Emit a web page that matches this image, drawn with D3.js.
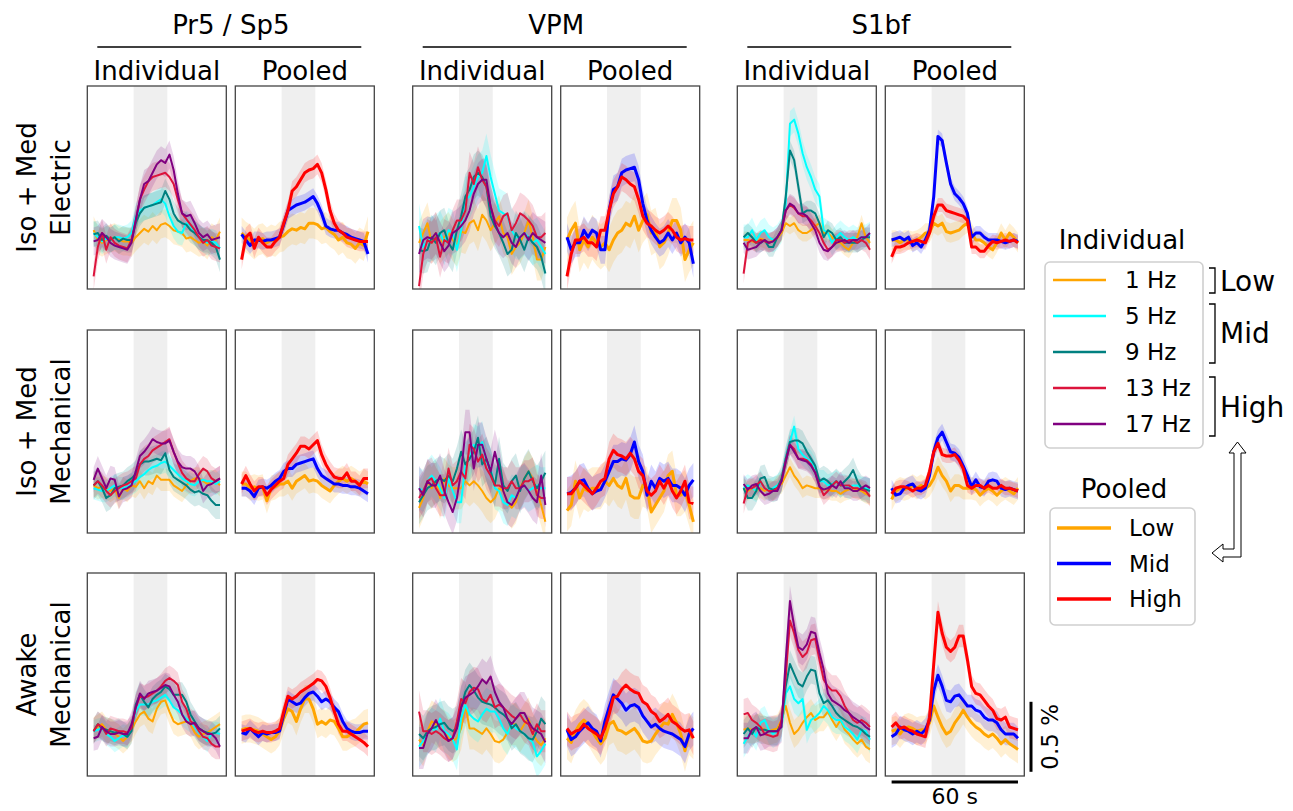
<!DOCTYPE html>
<html>
<head>
<meta charset="utf-8">
<script src="https://cdnjs.cloudflare.com/ajax/libs/d3/7.8.5/d3.min.js"></script>
<style>
body{margin:0;background:#fff}
text{font-family:"DejaVu Sans",sans-serif;fill:#000}
</style>
</head>
<body>
<svg id="chart" width="1293" height="811"></svg>
<script>
var times = [-20,-18,-16,-14,-12,-10,-8,-6,-4,-2,0,2,4,6,8,10,12,14,16,18,20,22,24,26,28,30,32,34,36,38,40];
var stim = [-1, 15];
var regions = ["Pr5 / Sp5", "VPM", "S1bf"];
var conditions = [["Iso + Med", "Electric"], ["Iso + Med", "Mechanical"], ["Awake", "Mechanical"]];
var freqLabels = ["1 Hz", "5 Hz", "9 Hz", "13 Hz", "17 Hz"];
var poolLabels = ["Low", "Mid", "High"];
var indColors = ["orange", "cyan", "teal", "crimson", "purple"];
var poolColors = ["orange", "blue", "red"];

// ---- Iso + Med, Electric ----  (order: 1, 5, 9, 13, 17 Hz  /  Low, Mid, High)
var elecPr5Ind = [
  [0.07,0,-0.02,0,0.01,0.02,0,-0.01,-0.01,-0.02,0.02,0.05,0.08,0.06,0.1,0.07,0.11,0.12,0.1,0.07,0.06,0.05,0.01,0.02,0,-0.02,-0.01,-0.04,0.02,0,0.06],
  [0.05,0.02,-0.01,0.01,0,0.02,0.02,0.01,0.02,0.05,0.17,0.21,0.23,0.24,0.25,0.27,0.29,0.26,0.17,0.1,0.06,0.05,0.12,0.1,0.05,0.02,0,-0.02,-0.01,-0.02,-0.06],
  [0.04,0.05,0,0.03,0,0.02,-0.01,0.01,0,0,0.12,0.19,0.23,0.24,0.25,0.26,0.27,0.35,0.29,0.19,0.14,0.12,0.11,0.07,0.05,0.02,0,0,-0.02,-0.05,-0.14],
  [-0.26,-0.05,0.05,-0.07,0.02,-0.02,-0.04,-0.05,-0.06,0,0.14,0.29,0.36,0.42,0.45,0.46,0.47,0.48,0.45,0.4,0.29,0.19,0.15,0.11,0.07,0.02,-0.02,0,-0.04,-0.05,-0.06],
  [-0.01,0,0.05,0.02,-0.02,-0.04,-0.05,-0.06,-0.07,-0.02,0.14,0.29,0.4,0.42,0.48,0.54,0.57,0.55,0.61,0.5,0.33,0.19,0.17,0.18,0.12,0.05,0.02,0.04,0,0.01,0.02]
];
var elecPr5IndSem = [0.1, 0.09, 0.09, 0.1, 0.1];
var elecPr5Pool = [
  [0.05,0.02,0,-0.03,0,0.01,-0.02,0,-0.01,0.02,0.03,0.06,0.08,0.07,0.09,0.08,0.12,0.12,0.11,0.08,0.09,0.06,0.04,0,0.02,-0.02,-0.03,-0.06,-0.02,-0.04,0.06],
  [0.04,0,-0.04,0,0,-0.01,0,0,0.01,0.02,0.11,0.21,0.23,0.25,0.26,0.27,0.29,0.31,0.26,0.19,0.1,0.08,0.07,0.07,0.05,0.04,0.02,0.01,0,-0.01,-0.1],
  [-0.14,0.02,0.05,-0.06,0.02,-0.02,-0.05,-0.05,-0.01,0.02,0.12,0.21,0.35,0.38,0.43,0.48,0.5,0.51,0.54,0.48,0.36,0.21,0.12,0.07,0.05,0.02,0.01,0,-0.01,-0.01,-0.01]
];
var elecPr5PoolSem = [0.11, 0.06, 0.07];
var elecVpmInd = [
  [-0.02,0.05,0.12,-0.02,0.05,-0.02,0.02,0.05,0,-0.04,0.06,0.05,0.12,0.14,0.07,0.18,0.14,0.07,0.12,0.17,0.05,0.02,-0.1,-0.05,-0.02,0.05,0.14,0.02,-0.14,-0.14,-0.05],
  [0.1,-0.05,0,0.01,0.02,0.05,-0.02,0.07,0.05,-0.07,0.07,0.29,0.31,0.38,0.45,0.48,0.6,0.45,0.33,0.21,0.19,0.17,0.07,0.02,0.02,0.05,0.02,-0.02,0,-0.05,-0.1],
  [-0.07,-0.08,-0.07,0.02,-0.02,0.05,0.07,-0.02,-0.07,0.07,0.17,0.31,0.36,0.45,0.48,0.45,0.38,0.17,0.1,0.05,-0.02,-0.1,-0.07,0.05,0,-0.07,0.02,-0.02,-0.05,-0.12,-0.24],
  [-0.33,-0.1,0,-0.02,0.02,-0.12,0,-0.02,0.07,0.14,0.14,0.21,0.48,0.4,0.52,0.43,0.38,0.24,0.14,0.1,0.17,0.19,0.07,0.12,0.19,0.17,0.14,0.1,0.02,0.02,0.05],
  [-0.1,0,0.02,0.01,0.05,-0.02,-0.08,-0.04,0.05,0.07,0.1,0.14,0.21,0.33,0.4,0.43,0.43,0.24,0.12,0.05,0.02,0.05,-0.02,-0.05,0.02,0.05,0,0.05,0.02,0,-0.02]
];
var elecVpmIndSem = [0.15, 0.16, 0.16, 0.15, 0.15];
var elecVpmPool = [
  [0,0.07,0.12,-0.07,0,-0.05,0.02,-0.02,-0.05,-0.02,-0.07,0,0.05,0.07,0.12,0.1,0.17,0.07,0.14,0.18,0.05,0.07,-0.05,-0.02,0.05,0.14,0.14,0.07,-0.14,-0.07,-0.02],
  [0.02,-0.07,-0.02,-0.02,0.07,0.02,0.07,0.05,-0.07,-0.07,0.21,0.36,0.38,0.48,0.5,0.51,0.52,0.43,0.26,0.14,0.07,0.02,-0.02,0,0.05,0,0.05,-0.02,0.02,-0.02,-0.17],
  [-0.26,-0.1,0,0,0.02,-0.02,-0.02,-0.05,0.07,0.07,0.21,0.33,0.38,0.45,0.43,0.4,0.38,0.29,0.17,0.12,0.1,0.07,0.05,0.07,0.1,0.07,0.02,0,0.01,0,0]
];
var elecVpmPoolSem = [0.16, 0.1, 0.1];
var elecS1Ind = [
  [0,0,-0.01,-0.02,0.01,0,-0.02,0,0.01,0.05,0.12,0.1,0.12,0.07,0.05,0.05,0.07,0.1,0.12,0.05,0.05,0.02,-0.02,-0.02,-0.05,-0.07,-0.02,0.02,0.12,0.02,-0.02],
  [0.02,0.02,0.07,0,0.05,0.07,0.02,0,0.02,0.07,0.26,0.83,0.86,0.76,0.62,0.52,0.45,0.36,0.31,0.07,0.05,-0.02,0.02,0.05,0.02,0,0.02,0,0.02,0.02,0.04],
  [0.02,0.05,0.02,-0.02,-0.02,0,-0.05,-0.05,0.02,0.07,0.31,0.64,0.57,0.38,0.19,0.21,0.21,0.19,0.12,0.02,0.07,0.05,0,0.02,-0.02,-0.02,-0.02,-0.02,0,0.02,0.02],
  [-0.24,-0.02,0,-0.02,0,-0.01,-0.02,-0.01,0.02,0.07,0.21,0.25,0.23,0.19,0.17,0.17,0.14,0.1,0.05,-0.02,-0.07,-0.05,0,0,-0.02,0,0,-0.02,0,-0.02,-0.07],
  [-0.02,-0.07,-0.06,-0.05,-0.02,0,-0.02,-0.01,0.02,0.07,0.21,0.26,0.24,0.19,0.19,0.17,0.12,0.07,-0.02,-0.07,-0.08,-0.05,-0.02,-0.01,0,-0.02,0,0,0.02,0.02,0.05]
];
var elecS1IndSem = [0.06, 0.09, 0.07, 0.07, 0.07];
var elecS1Pool = [
  [0,0,-0.02,0,0,-0.01,0,0.02,0.05,0.05,0.12,0.1,0.12,0.06,0.05,0.06,0.07,0.1,0.12,0.05,0,0,-0.02,-0.05,-0.07,-0.02,0.05,0,0.05,0.02,-0.02],
  [0,0.01,0.02,0,0.02,-0.04,-0.02,-0.05,0,0.07,0.31,0.74,0.71,0.55,0.4,0.33,0.3,0.26,0.19,0.02,0.05,0.05,0.02,0,0,0,-0.01,-0.02,-0.01,0,-0.01],
  [-0.12,-0.05,-0.05,-0.04,-0.02,-0.01,0,-0.01,-0.02,0.05,0.17,0.25,0.25,0.21,0.2,0.19,0.18,0.17,0.14,-0.05,-0.05,-0.08,-0.08,-0.04,-0.01,-0.02,-0.01,0,-0.01,0,-0.02]
];
var elecS1PoolSem = [0.07, 0.05, 0.05];

// ---- Iso + Med, Mechanical ----
var mechPr5Ind = [
  [-0.01,-0.03,-0.02,-0.03,-0.05,-0.03,-0.1,-0.03,-0.05,-0.01,-0.02,0.02,-0.03,0.02,0,0.06,0.03,0.03,0.03,-0.01,-0.03,-0.05,-0.01,0.02,0.04,0.04,0.02,0,0.02,0.02,-0.01],
  [-0.03,-0.04,-0.05,-0.05,-0.03,-0.01,-0.03,-0.03,-0.02,0,0.02,0.05,0.07,0.1,0.12,0.13,0.15,0.16,0.13,0.1,0.07,0.04,0.02,0,-0.01,0.02,0.03,0.02,0.02,0,0.02],
  [-0.01,0.02,-0.03,-0.1,-0.08,-0.03,-0.02,-0.01,0.02,0.04,0.07,0.14,0.16,0.16,0.17,0.18,0.17,0.22,0.1,0.05,0.03,0.01,-0.01,-0.04,-0.06,-0.05,-0.07,-0.08,-0.12,-0.15,-0.15],
  [-0.01,0.02,-0.01,-0.05,-0.08,-0.05,-0.03,-0.01,0,0.02,0.04,0.14,0.18,0.2,0.24,0.26,0.28,0.3,0.32,0.23,0.15,0.08,0.04,0.02,0.02,0.07,0.11,0.09,0.04,0.02,0.04],
  [0.03,0.11,0.04,-0.03,0.04,0.03,-0.09,-0.04,-0.03,-0.01,0.09,0.2,0.23,0.27,0.32,0.3,0.29,0.29,0.31,0.23,0.16,0.12,0.11,0.11,0.09,0.04,-0.05,-0.01,0,0.02,0.04]
];
var mechPr5IndSem = [0.08, 0.08, 0.1, 0.09, 0.09];
var mechPr5Pool = [
  [0,0,-0.03,-0.02,-0.03,-0.02,-0.12,-0.03,-0.02,0,0,0.02,-0.03,0.02,0.04,0.06,0.02,0.03,0.02,-0.01,-0.03,-0.05,-0.01,0.02,0.04,0.02,0.04,0.02,0,0.02,0],
  [-0.03,-0.03,-0.05,-0.09,-0.03,-0.02,-0.03,-0.01,0.02,0.04,0.09,0.11,0.11,0.14,0.15,0.16,0.17,0.18,0.11,0.06,0.04,0.02,0,0,-0.01,-0.01,-0.02,-0.02,-0.03,-0.05,-0.07],
  [0,0.06,0,-0.05,-0.02,-0.02,-0.08,-0.04,-0.01,0.02,0.04,0.14,0.18,0.22,0.27,0.27,0.25,0.28,0.31,0.21,0.14,0.09,0.05,0.04,0.04,0.08,0.02,0.02,-0.01,0.04,0.04]
];
var mechPr5PoolSem = [0.09, 0.06, 0.07];
var mechVpmInd = [
  [-0.17,-0.1,0.02,-0.03,0.02,-0.1,0.04,-0.01,-0.03,-0.03,-0.03,0.02,-0.01,0.02,-0.01,-0.05,-0.1,-0.13,-0.1,-0.03,-0.05,-0.13,-0.17,-0.13,-0.03,0.04,0.09,0.04,-0.05,-0.15,-0.27],
  [-0.03,-0.05,0.02,0.06,0.02,-0.03,-0.1,0.04,-0.05,-0.13,-0.13,0.14,0.18,0.28,0.26,0.3,0.16,0.11,-0.03,-0.05,-0.13,-0.15,-0.08,-0.1,-0.03,-0.01,-0.05,-0.03,-0.01,-0.03,-0.03],
  [-0.13,-0.08,-0.03,-0.01,0.02,0.04,0.02,0.06,0.02,0.11,0.23,0.14,0.18,0.23,0.33,0.14,0.18,0.09,-0.01,0.18,-0.01,-0.05,0.02,0.06,-0.05,0.04,0.09,0.02,-0.03,0.02,0.08],
  [-0.1,-0.05,0.02,0.04,-0.03,-0.08,-0.08,0.11,-0.01,0.02,0.09,0.04,0.28,0.25,0.16,0.21,0.11,0.06,-0.01,-0.01,-0.03,-0.03,0.02,-0.03,-0.03,0.02,0.02,0.04,-0.08,-0.1,-0.1],
  [-0.03,-0.08,0.02,-0.01,-0.01,0.06,-0.05,-0.13,-0.2,-0.1,0.09,0.37,0.37,0.11,0.28,0.28,0.18,0.09,0.23,0.11,-0.05,-0.13,-0.15,-0.1,-0.03,-0.01,-0.05,-0.1,-0.13,0.06,-0.15]
];
var mechVpmIndSem = [0.15, 0.15, 0.16, 0.15, 0.16];
var mechVpmPool = [
  [-0.19,-0.15,0.02,-0.1,-0.03,-0.05,-0.03,-0.03,-0.03,0.02,-0.01,0.04,-0.01,-0.03,0.04,-0.08,-0.1,-0.1,-0.01,-0.03,-0.2,-0.15,-0.1,-0.05,0.06,0.09,-0.08,-0.08,-0.05,-0.15,-0.27],
  [-0.07,-0.06,-0.03,0.02,0.03,-0.03,-0.07,-0.05,-0.04,0.02,0.09,0.16,0.16,0.18,0.17,0.21,0.3,0.16,0.09,-0.08,0.02,-0.03,0.04,0.02,0.04,-0.01,-0.01,-0.03,-0.08,-0.01,0.03],
  [-0.07,-0.07,-0.03,0.02,-0.01,-0.04,-0.07,-0.03,0.02,0.04,0.18,0.24,0.21,0.2,0.18,0.22,0.18,0.09,0.06,-0.05,-0.08,-0.05,0.02,-0.03,0.03,-0.05,-0.1,-0.05,0.02,-0.13,-0.14]
];
var mechVpmPoolSem = [0.15, 0.12, 0.12];
var mechS1Ind = [
  [-0.03,-0.05,-0.03,-0.05,-0.03,-0.05,-0.03,-0.05,-0.01,0,0.06,0.12,0.06,0.02,-0.03,-0.01,-0.02,-0.03,-0.03,-0.04,-0.04,-0.05,-0.05,-0.07,-0.05,-0.04,-0.03,-0.04,-0.05,-0.07,-0.08],
  [-0.03,-0.01,-0.03,-0.05,0.02,-0.03,-0.04,-0.03,-0.01,0.02,0.18,0.3,0.41,0.25,0.21,0.18,0.16,0.11,0.02,0.02,-0.01,0,0.02,-0.01,-0.01,-0.03,-0.01,-0.01,-0.03,-0.03,-0.04],
  [-0.03,-0.1,-0.1,-0.05,0.04,0.05,-0.03,-0.04,-0.03,0.04,0.18,0.3,0.31,0.31,0.29,0.23,0.18,0.13,0.02,0.04,0.02,-0.01,0.02,-0.01,0.02,0.05,0.1,0.02,-0.03,-0.04,-0.05],
  [-0.14,-0.03,-0.03,-0.01,0.02,-0.03,-0.05,-0.05,-0.03,0.02,0.16,0.28,0.25,0.18,0.18,0.17,0.14,0.08,-0.01,-0.08,-0.05,-0.01,0.02,-0.01,-0.01,-0.01,-0.03,-0.03,-0.04,-0.05,-0.09],
  [0,-0.04,-0.01,0,-0.05,-0.08,-0.07,-0.05,-0.05,0.02,0.16,0.28,0.23,0.18,0.17,0.16,0.13,0.08,-0.02,-0.04,-0.03,-0.01,-0.03,0.02,-0.03,-0.03,-0.05,-0.05,-0.03,-0.01,-0.03]
];
var mechS1IndSem = [0.07, 0.08, 0.09, 0.07, 0.07];
var mechS1Pool = [
  [-0.11,-0.05,-0.03,-0.04,-0.03,-0.01,-0.03,-0.01,-0.03,-0.01,0.04,0.12,0.06,0.02,-0.05,-0.01,-0.01,-0.03,-0.03,-0.03,-0.04,-0.08,-0.05,-0.03,-0.05,-0.08,-0.05,-0.03,-0.05,-0.07,-0.03],
  [-0.03,-0.08,-0.07,-0.03,-0.01,0,-0.04,-0.05,-0.03,0.06,0.23,0.33,0.37,0.3,0.23,0.22,0.19,0.13,0.06,-0.02,0.03,-0.02,-0.03,0.02,0.03,0.02,-0.03,-0.04,-0.03,-0.04,-0.05],
  [-0.07,-0.03,-0.02,-0.02,-0.03,-0.05,-0.03,-0.03,-0.01,0.09,0.23,0.29,0.21,0.2,0.2,0.21,0.17,0.11,-0.01,-0.03,-0.01,-0.01,-0.03,-0.01,-0.03,-0.03,-0.01,-0.03,-0.03,-0.04,-0.05]
];
var mechS1PoolSem = [0.08, 0.06, 0.05];

// ---- Awake, Mechanical ----
var awakePr5Ind = [
  [-0.02,0,0.02,-0.02,-0.03,-0.05,-0.07,-0.1,-0.07,-0.02,0.04,0.09,0.11,0.06,0.04,0.13,0.18,0.19,0.11,0.04,0.02,0.03,0.04,0.02,-0.04,-0.07,-0.05,-0.04,-0.02,0,0.02],
  [-0.03,-0.02,-0.01,-0.05,-0.07,-0.1,-0.08,-0.06,-0.07,-0.01,0.11,0.16,0.16,0.16,0.18,0.19,0.21,0.23,0.19,0.14,0.12,0.09,0.06,0.04,0,-0.04,-0.07,-0.1,-0.05,-0.04,-0.05],
  [-0.03,0.02,-0.01,-0.02,-0.03,-0.04,-0.03,-0.05,-0.07,-0.03,0.16,0.23,0.18,0.14,0.2,0.23,0.25,0.29,0.27,0.23,0.23,0.23,0.18,0.09,0.04,-0.01,-0.03,-0.04,-0.05,-0.04,-0.01],
  [-0.03,0.02,0,-0.05,-0.01,-0.02,-0.03,-0.03,-0.04,-0.01,0.14,0.22,0.21,0.22,0.24,0.26,0.29,0.33,0.35,0.33,0.3,0.18,0.13,0.04,0.02,-0.03,-0.07,-0.08,-0.12,-0.14,-0.14],
  [-0.08,-0.07,0,-0.03,-0.05,-0.05,-0.04,-0.05,-0.05,0.02,0.14,0.24,0.2,0.24,0.25,0.26,0.28,0.3,0.29,0.23,0.18,0.09,0.04,0.02,0.03,-0.01,-0.03,-0.05,-0.05,-0.08,-0.14]
];
var awakePr5IndSem = [0.09, 0.08, 0.09, 0.09, 0.09];
var awakePr5Pool = [
  [-0.02,-0.01,-0.01,-0.02,-0.03,-0.05,-0.07,-0.09,-0.07,-0.03,0.06,0.13,0.11,0.04,0.13,0.2,0.2,0.13,0.02,0.04,0.02,0.05,0.04,-0.01,-0.07,-0.07,-0.05,-0.04,-0.01,0.02,0.03],
  [-0.04,-0.05,-0.01,-0.04,-0.07,-0.04,-0.05,-0.04,-0.04,-0.03,0.09,0.2,0.18,0.16,0.17,0.21,0.24,0.25,0.22,0.18,0.2,0.18,0.14,0.11,0.04,-0.01,-0.03,-0.04,-0.04,-0.03,-0.03],
  [-0.03,-0.02,-0.01,-0.03,-0.04,-0.03,-0.04,-0.04,-0.03,-0.01,0.11,0.22,0.2,0.22,0.25,0.27,0.29,0.31,0.34,0.33,0.29,0.21,0.11,0.02,-0.03,-0.03,-0.05,-0.07,-0.09,-0.11,-0.14]
];
var awakePr5PoolSem = [0.1, 0.06, 0.07];
var awakeVpmInd = [
  [-0.09,-0.13,-0.03,0.04,0.02,-0.01,-0.03,-0.08,-0.1,-0.08,-0.01,0.16,-0.01,-0.01,-0.03,-0.05,-0.01,-0.05,-0.1,-0.11,-0.09,-0.04,0.02,0.02,-0.03,0.02,0.06,-0.05,-0.1,-0.13,-0.08],
  [-0.14,-0.1,-0.05,-0.01,-0.03,0.06,-0.03,-0.05,-0.09,-0.16,0.06,0.16,0.09,0.06,0.04,0.09,0.13,0.11,0.11,0.06,-0.01,-0.05,0.02,-0.01,-0.03,-0.05,-0.08,-0.11,-0.21,-0.17,-0.12],
  [-0.05,-0.08,-0.03,-0.01,0,0.02,0.03,-0.01,-0.03,-0.01,0.14,0.25,0.3,0.26,0.21,0.18,0.17,0.16,0.14,0.11,0.09,0.06,-0.01,0.02,-0.03,-0.05,-0.08,-0.09,-0.03,0.06,0.02],
  [0.11,-0.03,-0.03,-0.05,-0.03,-0.05,-0.08,-0.1,-0.08,0.04,0.2,0.17,0.25,0.28,0.27,0.2,0.18,0.23,0.14,0.16,0.14,0.11,0.08,0.06,0.09,0.04,0.02,-0.05,0.02,-0.03,-0.03],
  [-0.15,-0.15,-0.05,-0.01,0.05,-0.01,-0.04,-0.1,-0.08,-0.01,0.14,0.21,0.23,0.25,0.29,0.34,0.31,0.36,0.25,0.18,0.14,0.06,0.02,0.06,0.1,0.1,0.04,-0.01,-0.03,-0.05,-0.11]
];
var awakeVpmIndSem = [0.15, 0.15, 0.16, 0.15, 0.15];
var awakeVpmPool = [
  [-0.08,-0.11,-0.03,0.02,0.05,0.02,-0.03,-0.08,-0.12,-0.08,0.02,0.04,-0.02,-0.03,-0.05,-0.03,-0.01,-0.05,-0.1,-0.11,-0.1,-0.05,-0.01,0.03,0.02,0.09,0.03,-0.05,-0.17,-0.05,-0.08],
  [-0.02,-0.09,-0.07,-0.03,0,0.03,-0.01,-0.03,-0.1,0.04,0.14,0.23,0.2,0.17,0.12,0.15,0.16,0.14,0.08,0.04,0,0.02,-0.01,-0.03,-0.04,-0.05,-0.07,-0.09,-0.14,-0.05,-0.01],
  [-0.01,-0.05,-0.03,-0.02,0.02,-0.01,-0.03,-0.05,-0.08,-0.01,0.09,0.21,0.22,0.27,0.3,0.27,0.25,0.24,0.18,0.16,0.11,0.09,0.04,0.06,0.09,0.04,0.02,-0.01,-0.03,-0.02,-0.08]
];
var awakeVpmPoolSem = [0.15, 0.12, 0.12];
var awakeS1Ind = [
  [-0.02,-0.01,-0.02,-0.01,0,-0.02,-0.03,-0.02,-0.01,0.05,0.15,0.03,-0.05,-0.02,0.03,0.07,0.1,0.05,0.07,0.07,0.11,0.05,0,0.05,-0.02,-0.05,-0.09,-0.12,-0.09,-0.14,-0.16],
  [-0.12,-0.07,-0.02,-0.07,0.03,0.05,-0.02,-0.05,-0.03,0,0.24,0.29,0.2,0.17,0.2,-0.02,0.05,0.07,0.1,0.15,0.12,0.07,0.05,0.05,0,-0.02,-0.05,-0.09,-0.02,-0.03,-0.09],
  [-0.05,-0.01,-0.05,0,-0.02,-0.02,-0.03,-0.03,-0.03,0.03,0.29,0.45,0.38,0.31,0.29,0.36,0.41,0.4,0.24,0.17,0.19,0.15,0.1,0.07,0.05,0.03,0.01,0,-0.02,-0.05,-0.07],
  [0.09,0.1,0.05,0.03,0,-0.05,-0.06,-0.07,-0.06,0.05,0.36,0.76,0.67,0.55,0.5,0.53,0.62,0.63,0.48,0.34,0.29,0.26,0.26,0.22,0.15,0.1,0.05,0.03,0.05,0.03,0],
  [-0.08,-0.08,-0.02,0,-0.06,-0.05,-0.03,-0.03,-0.03,0,0.48,0.9,0.72,0.57,0.55,0.59,0.68,0.67,0.53,0.41,0.24,0.19,0.17,0.15,0.12,0.1,0.07,0.05,0.03,0,-0.02]
];
var awakeS1IndSem = [0.1, 0.1, 0.1, 0.11, 0.11];
var awakeS1Pool = [
  [-0.03,-0.02,-0.05,-0.01,0,-0.01,-0.03,-0.02,-0.02,0.03,0.15,0.07,0,-0.05,-0.03,0.03,0.07,0.12,0.07,0.03,0,-0.02,-0.05,-0.07,-0.05,-0.08,-0.12,-0.09,-0.12,-0.14,-0.16],
  [-0.07,-0.05,0,-0.02,-0.03,-0.05,-0.03,-0.05,-0.02,0.05,0.26,0.37,0.29,0.19,0.18,0.22,0.23,0.19,0.15,0.15,0.12,0.11,0.07,0.05,0.05,0.03,-0.02,-0.05,-0.05,-0.05,-0.08],
  [0,0.03,-0.01,0,-0.02,-0.03,-0.05,-0.06,-0.07,0.07,0.45,0.82,0.67,0.57,0.54,0.57,0.65,0.65,0.48,0.29,0.24,0.23,0.19,0.15,0.12,0.06,0.05,0.07,0,-0.01,-0.02]
];
var awakeS1PoolSem = [0.1, 0.08, 0.08];

var panelRows = [
  [[elecPr5Ind, elecPr5IndSem], [elecPr5Pool, elecPr5PoolSem], [elecVpmInd, elecVpmIndSem], [elecVpmPool, elecVpmPoolSem], [elecS1Ind, elecS1IndSem], [elecS1Pool, elecS1PoolSem]],
  [[mechPr5Ind, mechPr5IndSem], [mechPr5Pool, mechPr5PoolSem], [mechVpmInd, mechVpmIndSem], [mechVpmPool, mechVpmPoolSem], [mechS1Ind, mechS1IndSem], [mechS1Pool, mechS1PoolSem]],
  [[awakePr5Ind, awakePr5IndSem], [awakePr5Pool, awakePr5PoolSem], [awakeVpmInd, awakeVpmIndSem], [awakeVpmPool, awakeVpmPoolSem], [awakeS1Ind, awakeS1IndSem], [awakeS1Pool, awakeS1PoolSem]]
];

// layout
var panelW = 139, panelH = 203;
var colLeft = [87.3, 235.3, 412.7, 560.7, 737.3, 885.3];
var rowTop = [86, 330, 573];

var svg = d3.select("#chart");
var defs = svg.append("defs");

var x = d3.scaleLinear().domain([-23, 43]).range([0, panelW]);
var y = d3.scaleLinear().domain([-0.35, 1.1]).range([panelH, 0]);

var line = d3.line()
    .x(function(d, i){ return x(times[i]); })
    .y(function(d){ return y(d); });

panelRows.forEach(function(row, r){
  row.forEach(function(panel, c){
    var series = panel[0], sems = panel[1];
    var pooled = (c % 2 == 1);
    var colors = pooled ? poolColors : indColors;
    var id = "clip-" + r + "-" + c;

    defs.append("clipPath").attr("id", id)
      .append("rect").attr("width", panelW).attr("height", panelH);

    var g = svg.append("g")
        .attr("transform", "translate(" + colLeft[c] + "," + rowTop[r] + ")");

    var inner = g.append("g").attr("clip-path", "url(#" + id + ")");

    inner.append("rect")
        .attr("x", x(stim[0]))
        .attr("width", x(stim[1]) - x(stim[0]))
        .attr("height", panelH)
        .attr("fill", "#efefef");

    // bands first, then lines on top
    series.forEach(function(s, k){
      var area = d3.area()
          .x(function(d, i){ return x(times[i]); })
          .y0(function(d){ return y(d - sems[k]); })
          .y1(function(d){ return y(d + sems[k]); });
      inner.append("path")
          .datum(s)
          .attr("d", area)
          .attr("fill", colors[k])
          .attr("fill-opacity", 0.17);
    });
    series.forEach(function(s, k){
      inner.append("path")
          .datum(s)
          .attr("d", line)
          .attr("fill", "none")
          .attr("stroke", colors[k])
          .attr("stroke-width", pooled ? 3 : 2)
          .attr("stroke-linejoin", "round");
    });

    g.append("rect")
        .attr("width", panelW).attr("height", panelH)
        .attr("fill", "none").attr("stroke", "#444").attr("stroke-width", 1.3);
  });
});

// column headers
regions.forEach(function(name, k){
  var l = colLeft[2*k], rgt = colLeft[2*k+1] + panelW;
  svg.append("text")
      .attr("x", (l + rgt) / 2).attr("y", 34)
      .attr("text-anchor", "middle").style("font-size", "26px")
      .text(name);
  svg.append("line")
      .attr("x1", l + 10).attr("x2", rgt - 13)
      .attr("y1", 47).attr("y2", 47)
      .attr("stroke", "#000").attr("stroke-width", 1.6);
  ["Individual", "Pooled"].forEach(function(sub, j){
    svg.append("text")
        .attr("x", colLeft[2*k+j] + panelW/2).attr("y", 80)
        .attr("text-anchor", "middle").style("font-size", "26px")
        .text(sub);
  });
});

// row labels
conditions.forEach(function(lines, r){
  var cy = rowTop[r] + panelH/2;
  lines.forEach(function(t, j){
    svg.append("text")
        .attr("transform", "translate(" + (36 + j*34) + "," + cy + ") rotate(-90)")
        .attr("text-anchor", "middle").style("font-size", "26px")
        .text(t);
  });
});

// legend: individual
svg.append("text").attr("x", 1122).attr("y", 249)
    .attr("text-anchor", "middle").style("font-size", "26px").text("Individual");
svg.append("rect").attr("x", 1045).attr("y", 262).attr("width", 158).attr("height", 186)
    .attr("rx", 5).attr("fill", "#fff").attr("stroke", "#cfcfcf").attr("stroke-width", 1.6);
var indY = d3.scalePoint().domain(freqLabels).range([280, 424]);
freqLabels.forEach(function(lab, k){
  svg.append("line").attr("x1", 1053).attr("x2", 1106)
      .attr("y1", indY(lab)).attr("y2", indY(lab))
      .attr("stroke", indColors[k]).attr("stroke-width", 2.6);
  svg.append("text").attr("x", 1125).attr("y", indY(lab) + 8)
      .style("font-size", "23px").text(lab);
});
// brackets grouping frequencies
var brackets = [[268, 293, 291], [304, 363, 343], [377, 436, 417]];
brackets.forEach(function(b, k){
  svg.append("path")
      .attr("d", "M1209," + b[0] + "H1215V" + b[1] + "H1209")
      .attr("fill", "none").attr("stroke", "#000").attr("stroke-width", 1.3);
  svg.append("text").attr("x", 1220).attr("y", b[2])
      .style("font-size", "28px").text(poolLabels[k]);
});

// legend: pooled
svg.append("text").attr("x", 1124).attr("y", 498)
    .attr("text-anchor", "middle").style("font-size", "26px").text("Pooled");
svg.append("rect").attr("x", 1050).attr("y", 508).attr("width", 145).attr("height", 117)
    .attr("rx", 5).attr("fill", "#fff").attr("stroke", "#cfcfcf").attr("stroke-width", 1.6);
var poolY = d3.scalePoint().domain(poolLabels).range([528, 599]);
poolLabels.forEach(function(lab, k){
  svg.append("line").attr("x1", 1057).attr("x2", 1111)
      .attr("y1", poolY(lab)).attr("y2", poolY(lab))
      .attr("stroke", poolColors[k]).attr("stroke-width", 3.6);
  svg.append("text").attr("x", 1129).attr("y", poolY(lab) + 8)
      .style("font-size", "23px").text(lab);
});

// hollow double arrow linking the two legends
svg.append("path")
    .attr("d", "M1237.5,442 L1246,453 L1241,453 L1241,557 L1223,557 L1223,562 L1212,553 L1223,544 L1223,549 L1234,549 L1234,453 L1229,453 Z")
    .attr("fill", "#fff").attr("stroke", "#000").attr("stroke-width", 1);

// scale bars (last panel of bottom row)
var sbx = colLeft[5], sby = rowTop[2];
svg.append("line")
    .attr("x1", sbx + x(-20)).attr("x2", sbx + x(40))
    .attr("y1", 782).attr("y2", 782)
    .attr("stroke", "#000").attr("stroke-width", 3);
svg.append("text").attr("x", sbx + x(10)).attr("y", 804)
    .attr("text-anchor", "middle").style("font-size", "22px").text("60 s");
svg.append("line")
    .attr("x1", 1031).attr("x2", 1031)
    .attr("y1", sby + y(-0.32)).attr("y2", sby + y(0.18))
    .attr("stroke", "#000").attr("stroke-width", 3);
svg.append("text")
    .attr("transform", "translate(1058," + (sby + y(-0.07)) + ") rotate(-90)")
    .attr("text-anchor", "middle").style("font-size", "23px").text("0.5 %");
</script>
</body>
</html>
